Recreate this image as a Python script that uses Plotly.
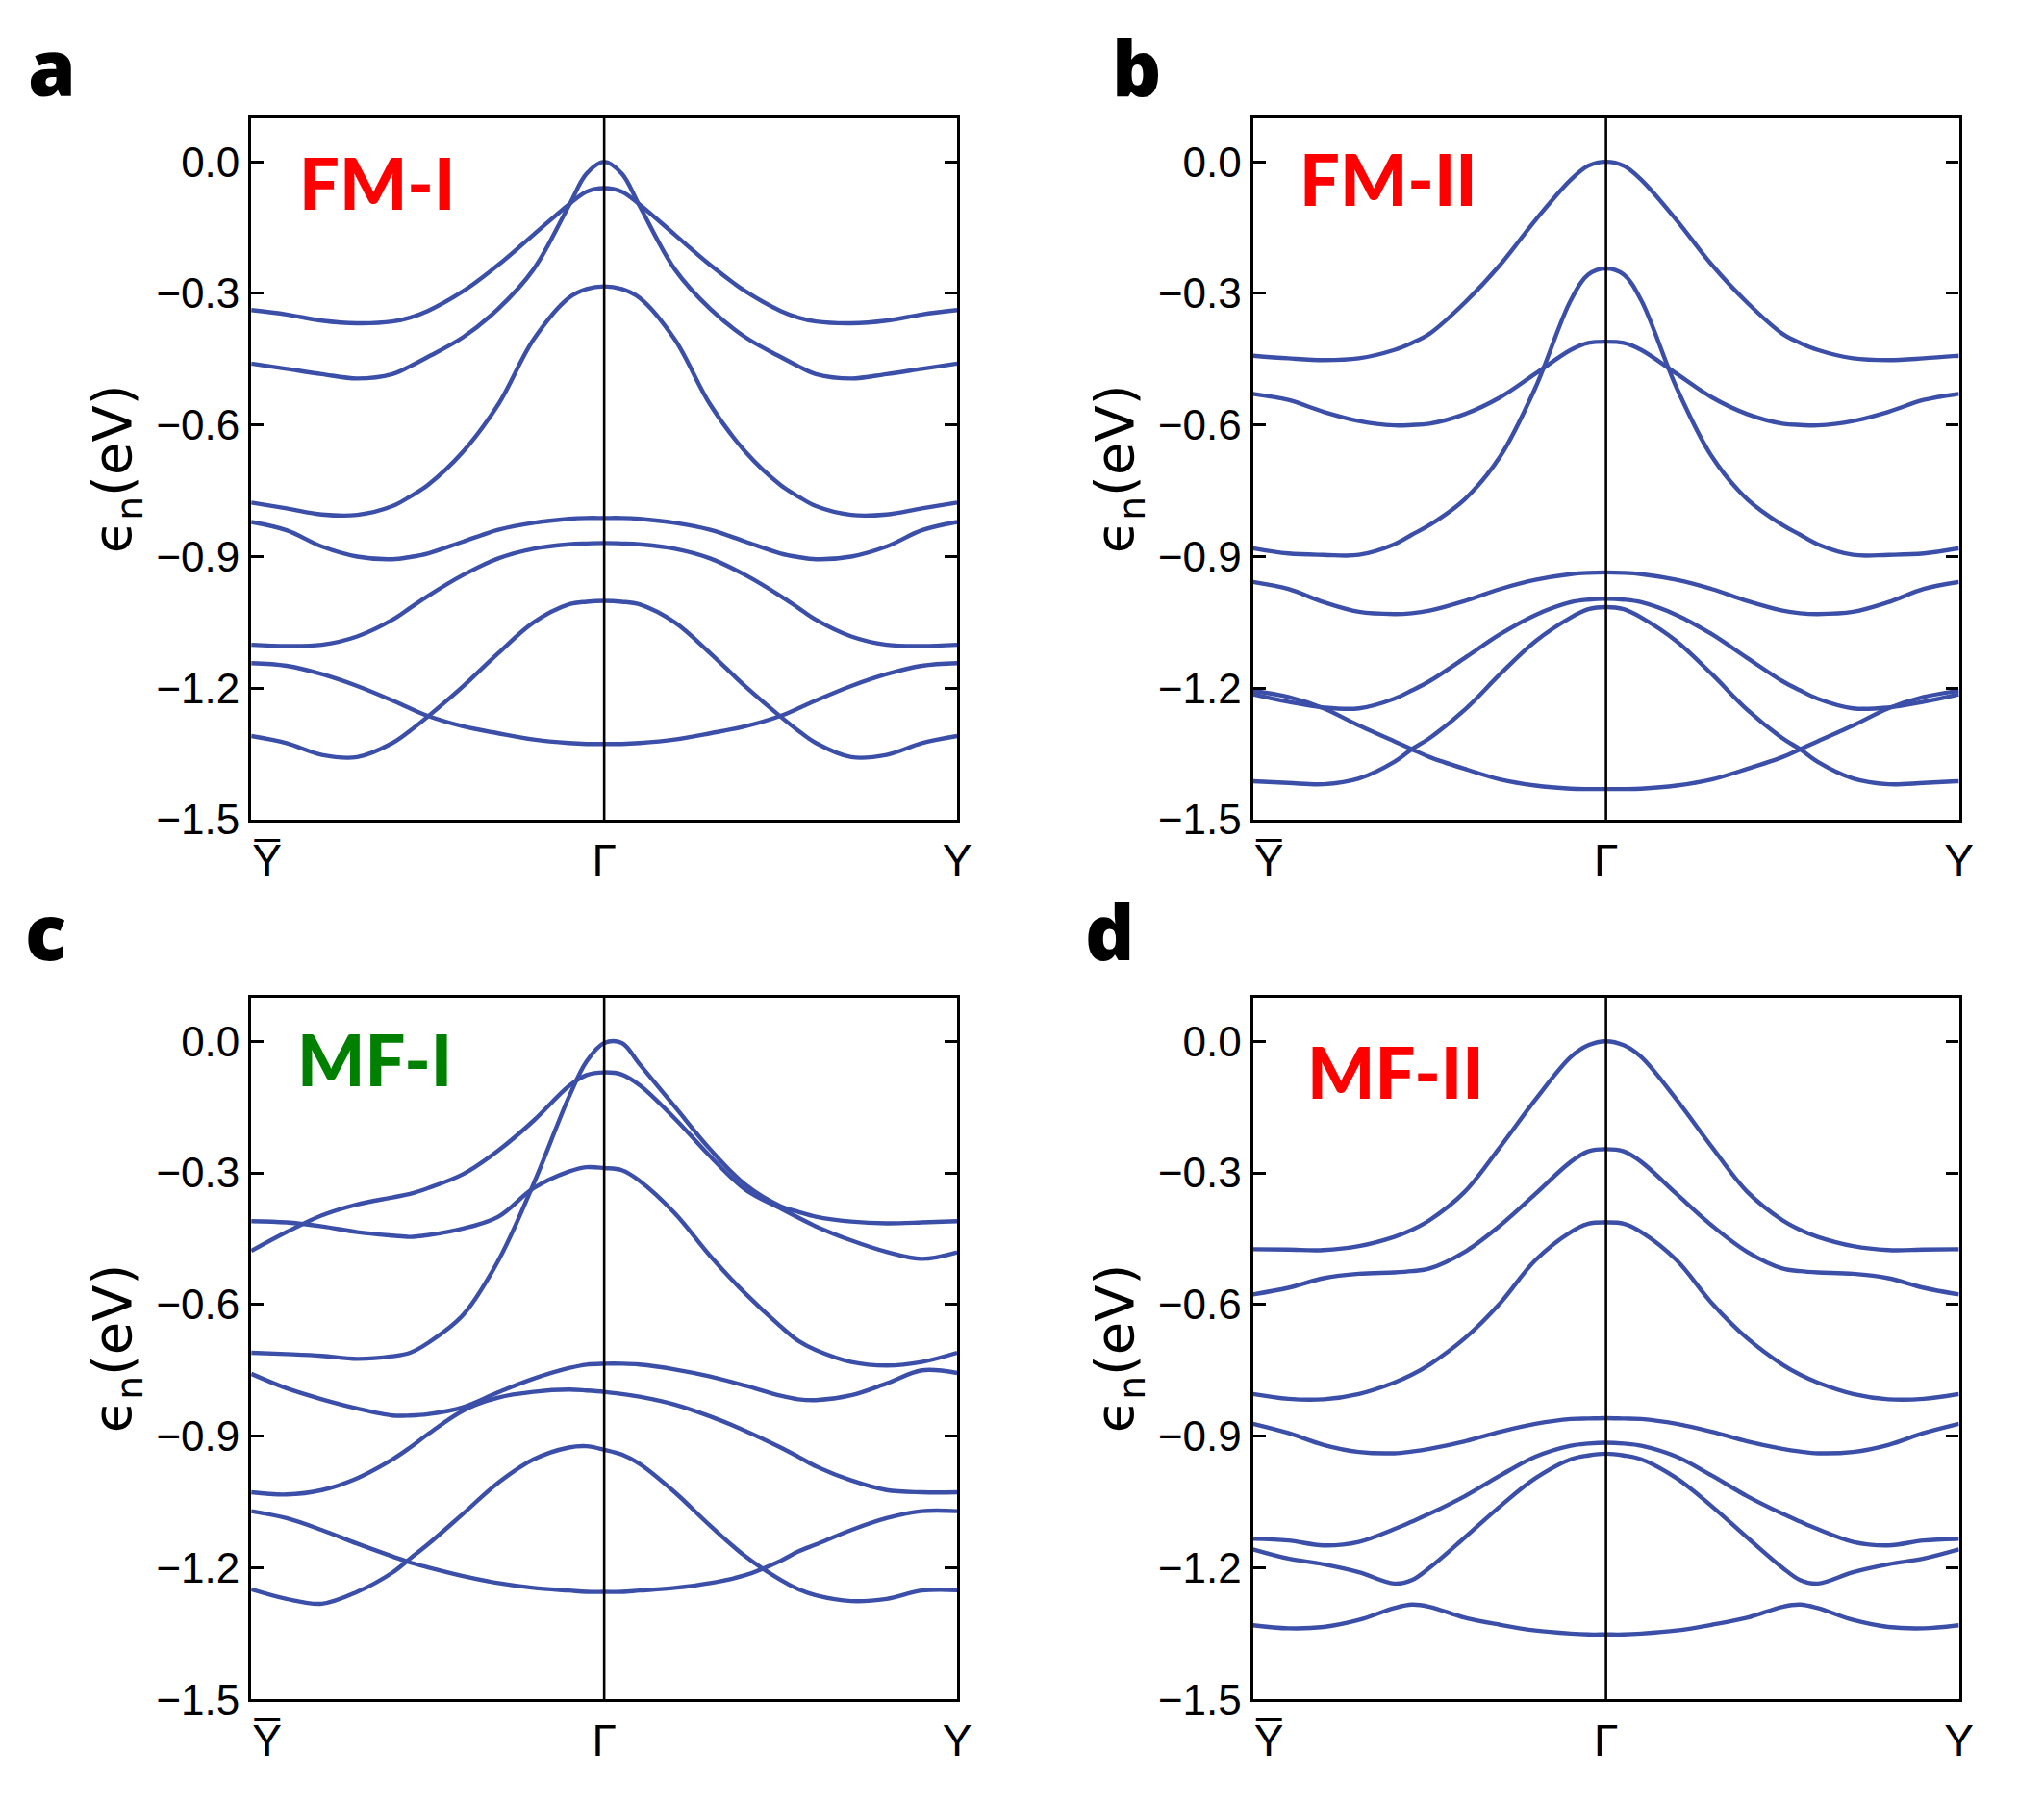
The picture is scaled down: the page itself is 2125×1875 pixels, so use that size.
import plotly.graph_objects as go
from plotly.subplots import make_subplots

# k-path: Ybar (-1) -> Gamma (0) -> Y (1)
k = [-1, -0.9, -0.8, -0.7, -0.6, -0.55, -0.5, -0.4, -0.3, -0.2, -0.1, -0.05, 0,
     0.05, 0.1, 0.2, 0.3, 0.4, 0.5, 0.55, 0.6, 0.7, 0.8, 0.9, 1]

k_ticks = [-0.955, 0, 1]
k_labels = ["Y\u0305", "Γ", "Y"]
e_ticks = [0.0, -0.3, -0.6, -0.9, -1.2, -1.5]
e_ticktext = ["0.0", "−0.3", "−0.6", "−0.9", "−1.2", "−1.5"]

# FM-I
fm1_1 = [-0.46, -0.472, -0.484, -0.494, -0.484, -0.466, -0.445, -0.4, -0.335, -0.245, -0.1, -0.027, 0.0,
         -0.027, -0.1, -0.245, -0.335, -0.4, -0.445, -0.466, -0.484, -0.494, -0.484, -0.472, -0.46]
fm1_2 = [-0.338, -0.348, -0.362, -0.368, -0.364, -0.355, -0.34, -0.295, -0.235, -0.166, -0.097, -0.068, -0.06,
         -0.068, -0.097, -0.166, -0.235, -0.295, -0.34, -0.355, -0.364, -0.368, -0.362, -0.348, -0.338]
fm1_3 = [-0.777, -0.79, -0.804, -0.805, -0.785, -0.763, -0.737, -0.661, -0.553, -0.405, -0.31, -0.29, -0.284,
         -0.29, -0.31, -0.405, -0.553, -0.661, -0.737, -0.763, -0.785, -0.805, -0.804, -0.79, -0.777]
fm1_4 = [-0.821, -0.84, -0.877, -0.9, -0.906, -0.901, -0.893, -0.866, -0.839, -0.823, -0.814, -0.812, -0.812,
         -0.812, -0.814, -0.823, -0.839, -0.866, -0.893, -0.901, -0.906, -0.9, -0.877, -0.84, -0.821]
fm1_5 = [-1.101, -1.104, -1.101, -1.082, -1.044, -1.017, -0.99, -0.942, -0.904, -0.882, -0.872, -0.87, -0.869,
         -0.87, -0.872, -0.882, -0.904, -0.942, -0.99, -1.017, -1.044, -1.082, -1.101, -1.104, -1.101]
fm1_6 = [-1.309, -1.325, -1.352, -1.357, -1.325, -1.297, -1.265, -1.196, -1.12, -1.05, -1.009, -1.003, -1.001,
         -1.003, -1.009, -1.05, -1.12, -1.196, -1.265, -1.297, -1.325, -1.357, -1.352, -1.325, -1.309]
fm1_7 = [-1.143, -1.149, -1.168, -1.195, -1.228, -1.246, -1.263, -1.287, -1.303, -1.317, -1.325, -1.327, -1.327,
         -1.327, -1.325, -1.317, -1.303, -1.287, -1.263, -1.246, -1.228, -1.195, -1.168, -1.149, -1.143]

# FM-II
fm2_1 = [-0.442, -0.448, -0.452, -0.448, -0.429, -0.413, -0.392, -0.321, -0.235, -0.133, -0.041, -0.009, 0.0,
         -0.009, -0.041, -0.133, -0.235, -0.321, -0.392, -0.413, -0.429, -0.448, -0.452, -0.448, -0.442]
fm2_2 = [-0.881, -0.893, -0.896, -0.896, -0.872, -0.85, -0.828, -0.769, -0.672, -0.515, -0.316, -0.257, -0.243,
         -0.257, -0.316, -0.515, -0.672, -0.769, -0.828, -0.85, -0.872, -0.896, -0.896, -0.893, -0.881]
fm2_3 = [-0.529, -0.543, -0.57, -0.591, -0.601, -0.6, -0.597, -0.575, -0.537, -0.483, -0.429, -0.413, -0.41,
         -0.413, -0.429, -0.483, -0.537, -0.575, -0.597, -0.6, -0.601, -0.591, -0.57, -0.543, -0.529]
fm2_4 = [-0.958, -0.974, -1.004, -1.026, -1.031, -1.029, -1.023, -1.001, -0.974, -0.953, -0.94, -0.937, -0.936,
         -0.937, -0.94, -0.953, -0.974, -1.001, -1.023, -1.029, -1.031, -1.026, -1.004, -0.974, -0.958]
fm2_5 = [-1.214, -1.231, -1.244, -1.246, -1.224, -1.205, -1.184, -1.131, -1.077, -1.033, -1.004, -0.998, -0.996,
         -0.998, -1.004, -1.033, -1.077, -1.131, -1.184, -1.205, -1.224, -1.246, -1.244, -1.231, -1.214]
fm2_6 = [-1.412, -1.416, -1.419, -1.406, -1.368, -1.339, -1.314, -1.249, -1.168, -1.093, -1.039, -1.02, -1.015,
         -1.02, -1.039, -1.093, -1.168, -1.249, -1.314, -1.339, -1.368, -1.406, -1.419, -1.416, -1.412]
fm2_7 = [-1.206, -1.22, -1.246, -1.285, -1.321, -1.339, -1.357, -1.384, -1.408, -1.422, -1.429, -1.43, -1.43,
         -1.43, -1.429, -1.422, -1.408, -1.384, -1.357, -1.339, -1.321, -1.285, -1.246, -1.22, -1.206]

# MF-I
mf1_1 = [-0.71, -0.713, -0.717, -0.724, -0.718, -0.71, -0.688, -0.624, -0.5, -0.325, -0.127, -0.046, -0.004,
         -0.004, -0.052, -0.149, -0.246, -0.327, -0.376, -0.389, -0.4, -0.411, -0.415, -0.413, -0.41]
mf1_2 = [-0.41, -0.413, -0.422, -0.435, -0.443, -0.446, -0.442, -0.427, -0.4, -0.335, -0.297, -0.287, -0.289,
         -0.294, -0.318, -0.392, -0.489, -0.575, -0.65, -0.683, -0.704, -0.731, -0.739, -0.731, -0.71]
mf1_3 = [-0.478, -0.435, -0.397, -0.372, -0.356, -0.348, -0.335, -0.303, -0.249, -0.181, -0.102, -0.077, -0.071,
         -0.076, -0.1, -0.176, -0.262, -0.338, -0.381, -0.402, -0.422, -0.454, -0.48, -0.496, -0.481]
mf1_4 = [-0.758, -0.791, -0.816, -0.837, -0.853, -0.853, -0.85, -0.834, -0.8, -0.769, -0.745, -0.737, -0.735,
         -0.735, -0.737, -0.748, -0.764, -0.785, -0.808, -0.816, -0.818, -0.807, -0.78, -0.75, -0.756]
mf1_5 = [-1.028, -1.033, -1.023, -0.996, -0.953, -0.926, -0.896, -0.842, -0.812, -0.799, -0.794, -0.796, -0.799,
         -0.804, -0.81, -0.828, -0.855, -0.888, -0.926, -0.947, -0.969, -1.001, -1.023, -1.028, -1.028]
mf1_6 = [-1.249, -1.271, -1.282, -1.255, -1.211, -1.179, -1.147, -1.077, -1.006, -0.953, -0.926, -0.923, -0.931,
         -0.942, -0.963, -1.028, -1.104, -1.174, -1.228, -1.249, -1.263, -1.276, -1.271, -1.252, -1.251]
mf1_7 = [-1.071, -1.087, -1.114, -1.145, -1.174, -1.188, -1.199, -1.219, -1.235, -1.246, -1.252, -1.255, -1.255,
         -1.255, -1.252, -1.246, -1.235, -1.217, -1.184, -1.163, -1.147, -1.114, -1.087, -1.071, -1.071]

# MF-II
mf2_1 = [-0.474, -0.475, -0.476, -0.467, -0.446, -0.43, -0.408, -0.343, -0.241, -0.133, -0.036, -0.009, 0.0,
         -0.009, -0.036, -0.133, -0.241, -0.343, -0.408, -0.43, -0.446, -0.467, -0.476, -0.475, -0.474]
mf2_2 = [-0.577, -0.562, -0.54, -0.53, -0.527, -0.524, -0.518, -0.48, -0.42, -0.348, -0.275, -0.251, -0.246,
         -0.251, -0.275, -0.348, -0.42, -0.48, -0.518, -0.524, -0.527, -0.53, -0.54, -0.562, -0.577]
mf2_3 = [-0.804, -0.815, -0.816, -0.804, -0.778, -0.76, -0.737, -0.677, -0.597, -0.499, -0.435, -0.416, -0.413,
         -0.416, -0.435, -0.499, -0.597, -0.677, -0.737, -0.76, -0.778, -0.804, -0.816, -0.815, -0.804]
mf2_4 = [-0.872, -0.893, -0.92, -0.936, -0.939, -0.935, -0.929, -0.912, -0.89, -0.872, -0.861, -0.86, -0.859,
         -0.86, -0.861, -0.872, -0.89, -0.912, -0.929, -0.935, -0.939, -0.936, -0.92, -0.893, -0.872]
mf2_5 = [-1.134, -1.138, -1.149, -1.141, -1.112, -1.095, -1.077, -1.037, -0.99, -0.947, -0.922, -0.917, -0.915,
         -0.917, -0.922, -0.947, -0.99, -1.037, -1.077, -1.095, -1.112, -1.141, -1.149, -1.138, -1.134]
mf2_6 = [-1.158, -1.179, -1.192, -1.21, -1.236, -1.228, -1.2, -1.131, -1.06, -0.996, -0.953, -0.944, -0.94,
         -0.944, -0.953, -0.996, -1.06, -1.131, -1.2, -1.228, -1.236, -1.21, -1.192, -1.179, -1.158]
mf2_7 = [-1.331, -1.338, -1.335, -1.319, -1.292, -1.284, -1.289, -1.314, -1.33, -1.343, -1.35, -1.352, -1.352,
         -1.352, -1.35, -1.343, -1.33, -1.314, -1.289, -1.284, -1.292, -1.319, -1.335, -1.338, -1.331]

panels = [
    ("a", "FM-I", "#ff0000", [fm1_1, fm1_2, fm1_3, fm1_4, fm1_5, fm1_6, fm1_7]),
    ("b", "FM-II", "#ff0000", [fm2_1, fm2_2, fm2_3, fm2_4, fm2_5, fm2_6, fm2_7]),
    ("c", "MF-I", "#008000", [mf1_1, mf1_2, mf1_3, mf1_4, mf1_5, mf1_6, mf1_7]),
    ("d", "MF-II", "#ff0000", [mf2_1, mf2_2, mf2_3, mf2_4, mf2_5, mf2_6, mf2_7]),
]

band_color = "#3b4fa8"
x_domains = [[0.1200, 0.4678], [0.6136, 0.9614]]
y_domains = [[0.5440, 0.9381], [0.0501, 0.4443]]
letter_pos = [(0.0217, 0.9675), (0.556, 0.9675), (0.0188, 0.482), (0.543, 0.482)]
name_pos = [(-0.87, -0.047), (-0.875, -0.038), (-0.874, -0.041), (-0.853, -0.069)]

fig = make_subplots(rows=2, cols=2)

for i, (letter, name, color, bands) in enumerate(panels):
    row, col = i // 2 + 1, i % 2 + 1
    for band in bands:
        fig.add_trace(go.Scatter(x=k, y=band, mode="lines", showlegend=False,
                                 line=dict(color=band_color, width=4.4, shape="spline", smoothing=1.0)),
                      row=row, col=col)
    fig.add_vline(x=0, line=dict(color="black", width=2.6), row=row, col=col)

    fig.update_xaxes(domain=x_domains[col - 1], range=[-1, 1], tickvals=k_ticks, ticktext=k_labels,
                     ticks="", showgrid=False, zeroline=False, showline=True, mirror=True,
                     linecolor="black", linewidth=3.2,
                     tickfont=dict(family="Liberation Sans", size=46, color="black"),
                     row=row, col=col)
    fig.update_yaxes(domain=y_domains[row - 1], range=[-1.5, 0.1], tickvals=e_ticks, ticktext=e_ticktext,
                     ticks="inside", ticklen=13, tickwidth=3, tickcolor="black",
                     showgrid=False, zeroline=False, showline=True, mirror="ticks",
                     linecolor="black", linewidth=3.2,
                     tickfont=dict(family="Liberation Sans", size=44, color="black"),
                     title=dict(text="ϵ<sub>n</sub>(eV)", standoff=8,
                                font=dict(family="DejaVu Sans", size=56, color="black")),
                     row=row, col=col)

    axis_id = "" if i == 0 else str(i + 1)
    fig.add_annotation(x=name_pos[i][0], y=name_pos[i][1], xref="x" + axis_id, yref="y" + axis_id,
                       text=name, showarrow=False, xanchor="left", yanchor="middle",
                       font=dict(family="Lato", size=74, color=color, weight=900))
    fig.add_annotation(x=letter_pos[i][0], y=letter_pos[i][1], xref="paper", yref="paper",
                       text=letter, showarrow=False, xanchor="center", yanchor="middle",
                       font=dict(family="Open Sans", size=80, color="black", weight=800))

fig.update_layout(width=2125, height=1875, margin=dict(l=0, r=0, t=0, b=0),
                  plot_bgcolor="white", paper_bgcolor="white")

fig.write_html("out.html")
